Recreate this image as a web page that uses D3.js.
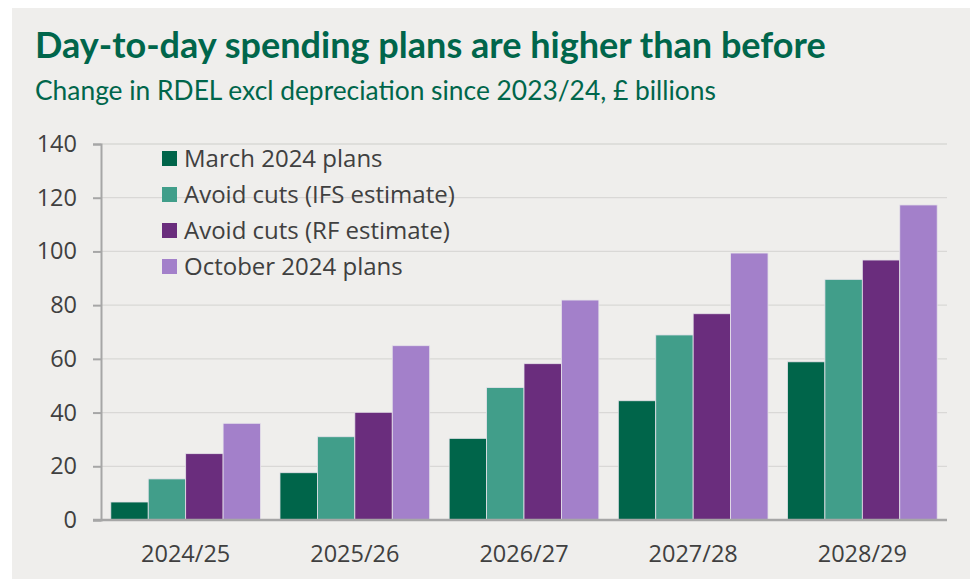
<!DOCTYPE html>
<html>
<head>
<meta charset="utf-8">
<script src="https://cdn.jsdelivr.net/npm/d3@7"></script>
<style>
  html, body { margin: 0; padding: 0; background: #ffffff; }
  svg { display: block; }
</style>
</head>
<body>
<svg id="chart" width="970" height="579"></svg>
<script>
// Chart data: change in RDEL excl depreciation since 2023/24, £ billions
const years = ["2024/25", "2025/26", "2026/27", "2027/28", "2028/29"];
const seriesNames = [
  "March 2024 plans",
  "Avoid cuts (IFS estimate)",
  "Avoid cuts (RF estimate)",
  "October 2024 plans"
];
const march2024 = [6.7, 17.6, 30.4, 44.4, 58.9];
const avoidCutsIFS = [15.3, 31.0, 49.3, 68.9, 89.6];
const avoidCutsRF = [24.7, 40.1, 58.2, 76.8, 96.8];
const october2024 = [36.0, 64.9, 81.9, 99.4, 117.3];
const yTicks = [0, 20, 40, 60, 80, 100, 120, 140];

const seriesValues = [march2024, avoidCutsIFS, avoidCutsRF, october2024];
const colors = ["#00654a", "#419e8a", "#6a2d7d", "#a380ca"];

const svg = d3.select("#chart");

// panel background
svg.append("rect")
  .attr("x", 12).attr("y", 8)
  .attr("width", 958).attr("height", 571)
  .attr("fill", "#efeeec");

// title and subtitle, fitted to their widths
function fitText(sel, width) {
  const w = sel.node().getComputedTextLength();
  const fs = parseFloat(sel.attr("font-size"));
  sel.attr("font-size", fs * width / w);
}
const title = svg.append("text")
  .attr("x", 35).attr("y", 58)
  .attr("font-family", "Lato, 'Open Sans', sans-serif")
  .attr("font-weight", 700)
  .attr("font-size", 28)
  .attr("fill", "#00664b")
  .text("Day-to-day spending plans are higher than before");
fitText(title, 791);

const subtitle = svg.append("text")
  .attr("x", 35).attr("y", 100)
  .attr("font-family", "Lato, 'Open Sans', sans-serif")
  .attr("font-size", 22)
  .attr("fill", "#00664b")
  .text("Change in RDEL excl depreciation since 2023/24, £ billions");
fitText(subtitle, 681);

// scales
const plotLeft = 101, plotRight = 947, plotTop = 144, plotBottom = 520;
const x0 = d3.scaleBand().domain(years).range([plotLeft, plotRight])
  .paddingInner(0.115).paddingOuter(0.058);
const x1 = d3.scaleBand().domain(d3.range(seriesNames.length))
  .range([0, x0.bandwidth()]).padding(0);
const y = d3.scaleLinear().domain([0, 140]).range([plotBottom, plotTop]);

const font = "'Open Sans', 'Noto Sans', sans-serif";
const textColor = "#404040";
const labelSize = 23.5;

// gridlines
svg.append("g").selectAll("line")
  .data(yTicks.filter(d => d > 0))
  .join("line")
  .attr("x1", plotLeft).attr("x2", plotRight)
  .attr("y1", d => y(d)).attr("y2", d => y(d))
  .attr("stroke", "#d9d8d6").attr("stroke-width", 1.3);

// y axis
const yAxis = svg.append("g")
  .attr("transform", `translate(${plotLeft},0)`)
  .call(d3.axisLeft(y).tickValues(yTicks).tickSize(8).tickPadding(16));
yAxis.select(".domain").attr("stroke", "#a6a6a6").attr("stroke-width", 2);
yAxis.selectAll(".tick line").attr("stroke", "#a6a6a6").attr("stroke-width", 2);
yAxis.selectAll(".tick text")
  .attr("font-family", font).attr("font-size", labelSize).attr("fill", textColor);

// bars
const groups = svg.append("g").selectAll("g")
  .data(years)
  .join("g")
  .attr("transform", d => `translate(${x0(d)},0)`);
groups.selectAll("rect")
  .data((d, i) => seriesValues.map((vals, s) => ({ s, v: vals[i] })))
  .join("rect")
  .attr("x", d => x1(d.s))
  .attr("width", x1.bandwidth())
  .attr("y", d => y(d.v))
  .attr("height", d => y(0) - y(d.v))
  .attr("fill", d => colors[d.s])
  .attr("stroke", "#e6e3ea")
  .attr("stroke-width", 0.8);

// x axis baseline
svg.append("line")
  .attr("x1", plotLeft - 8).attr("x2", plotRight)
  .attr("y1", y(0)).attr("y2", y(0))
  .attr("stroke", "#a6a6a6").attr("stroke-width", 2.5);

// x labels
svg.append("g").selectAll("text")
  .data(years)
  .join("text")
  .attr("x", d => x0(d) + x0.bandwidth() / 2)
  .attr("y", 562)
  .attr("text-anchor", "middle")
  .attr("font-family", font).attr("font-size", labelSize).attr("fill", textColor)
  .text(d => d);

// legend
const legend = svg.append("g").selectAll("g")
  .data(seriesNames)
  .join("g")
  .attr("transform", (d, i) => `translate(162,${158.5 + i * 36})`);
legend.append("rect")
  .attr("x", 0).attr("y", -7.5)
  .attr("width", 15).attr("height", 15)
  .attr("fill", (d, i) => colors[i]);
legend.append("text")
  .attr("x", 22).attr("y", 0)
  .attr("dy", "0.35em")
  .attr("font-family", font).attr("font-size", 24).attr("fill", textColor)
  .text(d => d);
</script>
</body>
</html>
